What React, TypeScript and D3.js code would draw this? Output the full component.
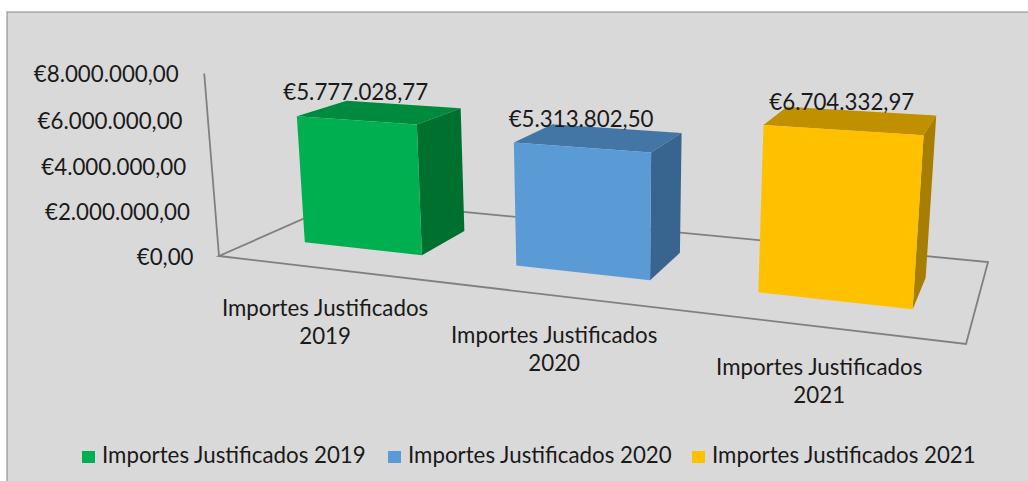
import React from "react";
import * as d3 from "d3";

const years = ["2019", "2020", "2021"];
const categoryLabels = ["Importes Justificados 2019", "Importes Justificados 2020", "Importes Justificados 2021"];
const values = [5777028.77, 5313802.5, 6704332.97];
const valueLabels = ["€5.777.028,77", "€5.313.802,50", "€6.704.332,97"];
const ticks = [0, 2000000, 4000000, 6000000, 8000000];
const tickLabels = ["€0,00", "€2.000.000,00", "€4.000.000,00", "€6.000.000,00", "€8.000.000,00"];
const frontColors = ["#00b050", "#5b9bd5", "#ffc000"];
const topColors = ["#008a3e", "#4376a4", "#c09000"];
const sideColors = ["#00702f", "#38658f", "#a87e00"];
const legendSwatchX = [82, 388, 692];

const W = 1028;
const H = 481;

// Perspective of the Excel-like 3D plot: floor corners and the vanishing point of the verticals
const A = [219, 256];
const B = [966, 344];
const C = [988, 262];
const D = [345, 200.5];
const V = [611, 5098];
const AXIS_TOP_Y = 73.5;

const det = (p: number[], q: number[]) => p[0] * q[1] - p[1] * q[0];
const dx1 = [B[0] - C[0], B[1] - C[1]];
const dx2 = [D[0] - C[0], D[1] - C[1]];
const sum = [A[0] - B[0] + C[0] - D[0], A[1] - B[1] + C[1] - D[1]];
const g = det(sum, dx2) / det(dx1, dx2);
const h = det(dx1, sum) / det(dx1, dx2);
const iw = -(A[1] - AXIS_TOP_Y) / (V[1] - AXIS_TOP_Y);

const wScale = d3.scaleLinear().domain([0, 8000000]).range([0, 1]);
const uScale = d3.scaleBand<string>().domain(years).range([0.003, 1.001]).paddingInner(0.43).paddingOuter(0.215);
const V_FRONT = 0.3;
const V_BACK = 0.7;

function project(u: number, v: number, value: number): [number, number] {
  const w = wScale(value) * iw;
  const x = (B[0] - A[0] + g * B[0]) * u + (D[0] - A[0] + h * D[0]) * v + A[0] + w * V[0];
  const y = (B[1] - A[1] + g * B[1]) * u + (D[1] - A[1] + h * D[1]) * v + A[1] + w * V[1];
  const d = g * u + h * v + 1 + w;
  return [x / d, y / d];
}

const poly = d3.line<[number, number]>().x((d) => d[0]).y((d) => d[1]);
const closed = (pts: [number, number][]) => poly(pts) + "Z";

const font = "Lato, Carlito, sans-serif";
const textColor = "#1a1a1a";
const fontSize = 22.3;

export default function App() {
  const floor = closed([project(0, 0, 0), project(1, 0, 0), project(1, 1, 0), project(0, 1, 0)]);
  return (
    <svg
      width={W}
      height={H}
      style={{ position: "absolute", left: 0, top: 0, background: "#fff" }}
      fontFamily={font}
    >
      <rect x={7} y={12} width={W} height={H} fill="#d9d9d9" stroke="#858585" strokeWidth={1} />
      <path d={floor} fill="none" stroke="#808080" strokeWidth={1.8} />
      <path d={poly([project(0, 0, 0), project(0, 0, 8000000)])!} fill="none" stroke="#808080" strokeWidth={1.8} />

      {ticks.map((t, i) => {
        const [x, y] = project(0, 0, t);
        return (
          <text key={t} x={x - 25.5} y={y + 8.5} textAnchor="end" fontSize={fontSize} fill={textColor}>
            {tickLabels[i]}
          </text>
        );
      })}

      {years.map((yr, i) => {
        const u0 = uScale(yr)!;
        const u1 = u0 + uScale.bandwidth();
        const val = values[i];
        return (
          <g key={yr}>
            <path
              d={closed([project(u0, V_FRONT, val), project(u1, V_FRONT, val), project(u1, V_BACK, val), project(u0, V_BACK, val)])}
              fill={topColors[i]}
            />
            <path
              d={closed([project(u1, V_FRONT, 0), project(u1, V_BACK, 0), project(u1, V_BACK, val), project(u1, V_FRONT, val)])}
              fill={sideColors[i]}
            />
            <path
              d={closed([project(u0, V_FRONT, 0), project(u1, V_FRONT, 0), project(u1, V_FRONT, val), project(u0, V_FRONT, val)])}
              fill={frontColors[i]}
            />
          </g>
        );
      })}

      {years.map((yr, i) => {
        const uc = uScale(yr)! + uScale.bandwidth() / 2;
        const [tx, ty] = project(uc, V_FRONT, values[i]);
        const [fx, fy] = project(uc, 0, 0);
        return (
          <g key={yr} fill={textColor} textAnchor="middle" fontSize={fontSize}>
            <text x={tx} y={ty - 20}>{valueLabels[i]}</text>
            <text x={fx + 1} y={fy + 48}>{categoryLabels[i].replace(" " + yr, "")}</text>
            <text x={fx + 1} y={fy + 76}>{yr}</text>
          </g>
        );
      })}

      {categoryLabels.map((c, i) => (
        <g key={c}>
          <rect x={legendSwatchX[i]} y={451} width={13} height={12} fill={frontColors[i]} />
          <text x={legendSwatchX[i] + 20} y={463} fontSize={fontSize} fill={textColor}>{c}</text>
        </g>
      ))}
    </svg>
  );
}
